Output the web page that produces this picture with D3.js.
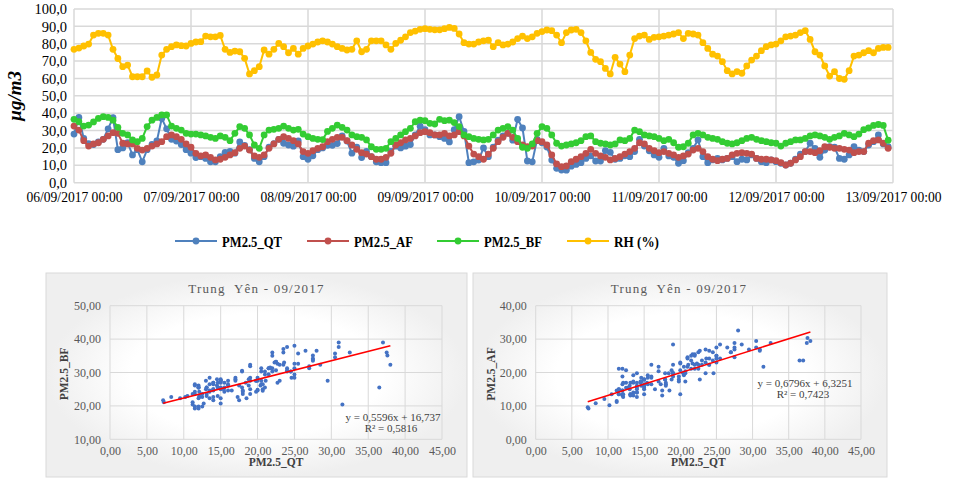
<!DOCTYPE html>
<html>
<head>
<meta charset="utf-8">
<script src="https://cdn.jsdelivr.net/npm/d3@7/dist/d3.min.js"></script>
<style>
  body { margin: 0; background: #fff; }
  svg { display: block; }
  .tick text { font-family: "Liberation Serif", "Times New Roman", serif; }
</style>
</head>
<body>
<div id="chart-area"></div>
<script>
// hourly readings, 06/09/2017 00:00 -> 12/09/2017 23:00 (one row per day)
var pmQT = [
  28, 37.6, 25.5, 22.5, 22, 23.5, 25, 31, 37.5, 19, 20, 23, 16, 19, 12, 19, 22, 24, 37, 31, 25, 24, 22, 19,
  17, 14.5, 15, 14, 12, 12, 15, 17.5, 18, 17, 23.5, 21.5, 19, 14, 12, 15, 20.5, 22.5, 25, 22.7, 21.7, 21, 24, 15,
  13.5, 15.5, 19, 20, 21.5, 21.5, 22.5, 27, 24, 17, 20.5, 14.5, 18, 15, 12, 11.5, 11.5, 18, 21, 20, 21, 22, 27.5, 32.5,
  30.5, 27.5, 27.5, 26.5, 25.5, 23.5, 30.5, 38, 29.5, 11.5, 12, 13, 20, 15, 20.5, 24.5, 27, 28.5, 24.5, 36.5, 31.5, 12.5,
  12, 25, 23, 20.5, 13, 8.3, 7.3, 7.2, 9.5, 10.5, 11.5, 14, 15.5, 12.5, 12.5, 18.5, 17.5, 13.5, 14, 15.5, 15, 17.9,
  25, 21.1, 18.4, 16, 14.6, 19.8, 15.4, 14.6, 11.2, 12.7, 17.3, 19.8, 24.6, 15, 11.5, 13.1, 14, 13.1, 14, 15, 12.1, 13.5,
  13.1, 16, 14, 12.1, 11.5, 13.1, 12.1, 11.2, 10.2, 11.2, 13.5, 16.5, 17.9, 22.7, 19.8, 14.6, 18.8, 20.7, 20.4, 14, 13.5, 16,
  20.7, 18.8, 17.9, 21.7, 23.6, 27.5, 22.3, 20.7
];
var pmAF = [
  32.6, 30.3, 24.2, 21.1, 22.3, 23, 25, 26.9, 28.8, 28.4, 22.7, 22.3, 22.3, 19.8, 18.8, 19.8, 21.1, 22.3, 23.6, 26.5, 27.5, 26.5, 25, 22.3,
  20.4, 16.9, 15.4, 16, 14.6, 13.1, 13.5, 14.6, 16, 17.3, 19.8, 21.1, 18.8, 15.4, 14.6, 16, 19.8, 22.3, 25, 26.5, 25.5, 24.2, 22.3, 17.9,
  16.9, 18.4, 19.8, 20.7, 23.6, 25, 26.1, 26.1, 24.2, 21.7, 19.2, 17.3, 16.5, 15, 13.5, 13.5, 14.6, 16.9, 21.7, 23, 24.6, 25.5, 26.9, 28.8,
  29.4, 28.8, 27.5, 27.5, 28.4, 26.9, 27.5, 29.4, 26.9, 21.1, 16.5, 15, 13.5, 16.5, 19.8, 23.6, 26.1, 28.4, 26.1, 23.6, 21.7, 20.7,
  21.1, 24.2, 23.6, 21.7, 16, 10.8, 9.2, 9.6, 12.1, 13.5, 15, 16.9, 19.2, 16.9, 15.4, 14.6, 13.1, 14, 15, 16.5, 17.9, 19.8,
  23, 22.3, 19.8, 18.4, 17.3, 17.9, 16.9, 16, 14.6, 15.4, 16.5, 18.8, 19.8, 17.9, 15, 13.5, 12.7, 13.5, 14, 16, 16.9, 17.3,
  16.9, 16.5, 14, 13.5, 13.5, 13.1, 12.7, 11.5, 10.2, 11.2, 13.1, 15, 17.9, 17.9, 17.3, 18.4, 20.7, 20.4, 19.8, 19.8, 19.2, 18.8,
  17.3, 17.9, 17.9, 22.7, 24.2, 24.6, 22.7, 19.8
];
var pmBF = [
  36.5, 35.1, 32.6, 33.2, 35, 37, 38, 37.6, 36, 31.9, 28.4, 27.5, 24.6, 23.6, 25.5, 32.3, 36, 37.6, 39, 39, 32.6, 31.3, 30.3, 28.4,
  28, 28, 27.5, 26.9, 26.1, 25.5, 26.9, 26.1, 24.2, 28.4, 32.3, 31.3, 27.5, 21.7, 19.8, 27.5, 30.3, 30.7, 31.3, 32.6, 31.3, 30.3, 30.7, 28,
  26.5, 25.5, 25, 24.8, 29.5, 31.3, 33.2, 31.9, 30.3, 27.5, 26.5, 26.1, 24.6, 20.7, 19.2, 19.2, 19.8, 23.6, 25.5, 27.5, 29.4, 31.3, 35.1, 36,
  35.7, 34.2, 33.8, 36.5, 35.7, 36, 34.6, 32.3, 27.5, 26.5, 25.5, 25, 24.6, 25, 27.5, 30.3, 31.3, 32.3, 30.3, 25.5, 20.4, 19.8,
  22.3, 28.4, 32.3, 31.3, 27.5, 22.7, 21.1, 21.7, 22.3, 23, 24.2, 26.5, 26.9, 23.6, 22.7, 22.3, 21.7, 22.3, 24.6, 24.2, 25.5, 30.3,
  29.4, 27.5, 26.9, 26.5, 25.5, 24.2, 25, 23, 20.4, 20.7, 22.7, 27.5, 28.4, 27.5, 26.1, 25.5, 25, 23.6, 22.7, 22.3, 23, 24.2,
  25.5, 26.1, 25, 24.2, 23.6, 23, 22.7, 21.1, 22.7, 23.6, 24.6, 24.6, 25.5, 26.9, 27.5, 26.9, 26.1, 25, 26.1, 26.9, 28.4, 27.5,
  26.5, 28, 30.5, 31.5, 33, 33.5, 33, 24.5
];
var rhPct = [
  76.8, 77.5, 78.7, 79.8, 85, 86, 86, 85, 76.8, 71.5, 66.8, 67.7, 61, 61, 61, 64.3, 60.7, 62, 73.5, 76.8, 78.3, 79.3, 78.9, 78.7,
  80.2, 81, 81.2, 84.4, 84, 84, 84.8, 76.8, 75, 75.8, 75.4, 71.6, 62.6, 64.5, 66.8, 76.4, 74, 76.8, 80.2, 78.3, 74.8, 77.3, 74, 77.3,
  78.7, 79.8, 81, 81.7, 81, 79.8, 78.3, 77.3, 76.4, 76.8, 81.7, 75.4, 76.8, 81.7, 81.7, 81.7, 79.3, 76.8, 80.2, 82, 84, 86.4, 87.3, 88.3,
  88.7, 88.3, 88, 88, 88.7, 89.4, 88.8, 85.6, 80.6, 79.8, 79.8, 81, 81.7, 82, 78.3, 80.6, 79.3, 79.8, 81, 83, 84.4, 83,
  84, 86, 87, 87.9, 87.5, 85, 80.6, 86.4, 87.9, 88.3, 86.4, 81.7, 75, 71, 69.7, 65.8, 62.6, 72.2, 68.3, 63.9, 73.5, 83,
  84.4, 85, 82.5, 83.7, 84, 84.4, 85, 85.6, 86.4, 83, 86, 85.6, 85, 80.6, 77.3, 74, 72.9, 69.7, 64.5, 62.6, 64, 63,
  67.2, 70.6, 72.9, 76, 78.3, 79.3, 79.8, 81.7, 84, 84.4, 85, 86.4, 87.5, 82.5, 75.4, 73.5, 67.2, 61.4, 63.9, 60, 59.5, 64.5,
  72.9, 73.5, 74.8, 76, 74.8, 77.3, 77.9, 77.9
];

var dayLabels = ["06/09/2017 00:00", "07/09/2017 00:00", "08/09/2017 00:00", "09/09/2017 00:00",
                 "10/09/2017 00:00", "11/09/2017 00:00", "12/09/2017 00:00", "13/09/2017 00:00"];
var seriesNames = ["PM2.5_QT", "PM2.5_AF", "PM2.5_BF", "RH (%)"];
var seriesColors = ["#4f81bd", "#c0504d", "#33cc33", "#ffc000"];

// regression results printed on the scatter charts
var fitBF = { slope: 0.5596, intercept: 16.737, r2: "0,5816", label: "y = 0,5596x + 16,737" };
var fitAF = { slope: 0.6796, intercept: 6.3251, r2: "0,7423", label: "y = 0,6796x + 6,3251" };

var serif = '"Liberation Serif", "Times New Roman", serif';
var locale = d3.formatLocale({ decimal: ",", thousands: ".", grouping: [3], currency: ["", ""] });
var fmt1 = locale.format(".1f");
var fmt2 = locale.format(".2f");

var svg = d3.select("#chart-area")
    .append("svg")
    .attr("width", 953)
    .attr("height", 481);

// ---------- time series ----------
var start = new Date(2017, 8, 6, 0, 0);
var hourly = pmQT.map((d, i) => d3.timeHour.offset(start, i));
var dayTicks = d3.range(8).map(i => d3.timeDay.offset(start, i));

var x = d3.scaleTime()
    .domain([start, d3.timeDay.offset(start, 7)])
    .range([74, 893]);
var y = d3.scaleLinear()
    .domain([0, 100])
    .range([182.7, 9]);

var lineChart = svg.append("g");

lineChart.append("g")
    .selectAll("line")
    .data(d3.range(0, 101, 10))
    .enter()
    .append("line")
    .attr("x1", 74).attr("x2", 893)
    .attr("y1", d => y(d)).attr("y2", d => y(d))
    .attr("stroke", "#d9d9d9").attr("stroke-width", 1.5);

lineChart.append("g")
    .selectAll("line")
    .data(dayTicks)
    .enter()
    .append("line")
    .attr("x1", d => x(d)).attr("x2", d => x(d))
    .attr("y1", y(0)).attr("y2", y(100))
    .attr("stroke", "#d9d9d9").attr("stroke-width", 1.5);

var yAxisCall = d3.axisLeft(y).tickValues(d3.range(0, 101, 10)).tickFormat(fmt1).tickSize(0).tickPadding(7);
lineChart.append("g")
    .attr("transform", "translate(74,0)")
    .call(yAxisCall)
    .call(g => g.select(".domain").remove())
    .selectAll("text")
    .attr("font-size", "14.5px")
    .attr("fill", "#000");

var xAxisCall = d3.axisBottom(x).tickValues(dayTicks).tickFormat((d, i) => dayLabels[i]).tickSize(0).tickPadding(9);
lineChart.append("g")
    .attr("transform", `translate(0, ${y(0)})`)
    .call(xAxisCall)
    .call(g => g.select(".domain").remove())
    .selectAll("text")
    .attr("font-size", "14.5px")
    .attr("textLength", 96)
    .attr("lengthAdjust", "spacingAndGlyphs")
    .attr("fill", "#000");

lineChart.append("text")
    .attr("transform", "translate(21,96) rotate(-90)")
    .attr("text-anchor", "middle")
    .attr("font-family", serif)
    .attr("font-size", "19px")
    .attr("font-weight", "bold")
    .attr("font-style", "italic")
    .text("µg/m3");

var allSeries = [pmQT, pmAF, pmBF, rhPct];
var line = d3.line()
    .x((d, i) => x(hourly[i]))
    .y(d => y(d));

allSeries.forEach((vals, k) => {
    var g = lineChart.append("g");
    g.append("path")
        .attr("d", line(vals))
        .attr("fill", "none")
        .attr("stroke", seriesColors[k])
        .attr("stroke-width", 2);
    g.selectAll("circle")
        .data(vals)
        .enter()
        .append("circle")
        .attr("cx", (d, i) => x(hourly[i]))
        .attr("cy", d => y(d))
        .attr("r", 3.4)
        .attr("fill", seriesColors[k]);
});

// legend
var legendX = [175, 307, 437, 567];
var legendTextW = [60, 59, 58, 45];
var legend = svg.append("g");
seriesNames.forEach((name, k) => {
    var lg = legend.append("g").attr("transform", `translate(${legendX[k]}, 241)`);
    lg.append("line")
        .attr("x1", 0).attr("x2", 42)
        .attr("stroke", seriesColors[k]).attr("stroke-width", 2);
    lg.append("circle")
        .attr("cx", 21).attr("r", 3.4)
        .attr("fill", seriesColors[k]);
    lg.append("text")
        .attr("x", 47).attr("y", 5.5)
        .attr("font-family", serif)
        .attr("font-size", "15.5px")
        .attr("font-weight", "bold")
        .attr("textLength", legendTextW[k])
        .attr("lengthAdjust", "spacingAndGlyphs")
        .text(name);
});

// ---------- scatter charts ----------
var defs = svg.append("defs");
var grad = defs.append("radialGradient").attr("id", "panelBg");
grad.append("stop").attr("offset", "60%").attr("stop-color", "#ffffff");
grad.append("stop").attr("offset", "100%").attr("stop-color", "#efefef");

function scatter(opts) {
    var g = svg.append("g");
    g.append("rect")
        .attr("x", opts.frame[0]).attr("y", 273)
        .attr("width", opts.frame[1] - opts.frame[0]).attr("height", 204)
        .attr("fill", "url(#panelBg)")
        .attr("stroke", "#d9d9d9");

    var sx = d3.scaleLinear().domain([0, 45]).range(opts.xr);
    var sy = d3.scaleLinear().domain(opts.yDomain).range([439.3, 305.7]);
    var xt = d3.range(0, 46, 5);
    var yt = d3.range(opts.yDomain[0], opts.yDomain[1] + 1, 10);

    g.append("g").selectAll("line").data(xt).enter().append("line")
        .attr("x1", d => sx(d)).attr("x2", d => sx(d))
        .attr("y1", sy.range()[0]).attr("y2", sy.range()[1])
        .attr("stroke", "#d9d9d9");
    g.append("g").selectAll("line").data(yt).enter().append("line")
        .attr("x1", sx(0)).attr("x2", sx(45))
        .attr("y1", d => sy(d)).attr("y2", d => sy(d))
        .attr("stroke", "#d9d9d9");

    g.append("g")
        .attr("transform", `translate(0, ${sy.range()[0]})`)
        .call(d3.axisBottom(sx).tickValues(xt).tickFormat(fmt2).tickSize(0).tickPadding(7))
        .call(a => a.select(".domain").remove())
        .selectAll("text").attr("font-size", "12px").attr("fill", "#595959");
    g.append("g")
        .attr("transform", `translate(${sx(0)}, 0)`)
        .call(d3.axisLeft(sy).tickValues(yt).tickFormat(fmt2).tickSize(0).tickPadding(9))
        .call(a => a.select(".domain").remove())
        .selectAll("text").attr("font-size", "12px").attr("fill", "#595959");

    g.append("g").selectAll("circle").data(pmQT).enter().append("circle")
        .attr("cx", d => sx(d))
        .attr("cy", (d, i) => sy(opts.yVals[i]))
        .attr("r", 2)
        .attr("fill", "#4472c4");

    var x0 = d3.min(pmQT), x1 = d3.max(pmQT);
    g.append("line")
        .attr("x1", sx(x0)).attr("y1", sy(opts.fit.slope * x0 + opts.fit.intercept))
        .attr("x2", sx(x1)).attr("y2", sy(opts.fit.slope * x1 + opts.fit.intercept))
        .attr("stroke", "#ff0000").attr("stroke-width", 1.6);

    var cx = (opts.frame[0] + opts.frame[1]) / 2 + opts.titleShift;
    g.append("text")
        .attr("x", cx).attr("y", 292.5)
        .attr("text-anchor", "middle")
        .attr("font-family", serif).attr("font-size", "13px")
        .attr("letter-spacing", "1.2px").attr("fill", "#595959")
        .style("white-space", "pre")
        .text("Trung  Yên - 09/2017");

    g.append("text")
        .attr("x", (sx(0) + sx(45)) / 2).attr("y", 466)
        .attr("text-anchor", "middle")
        .attr("font-family", serif).attr("font-size", "11.5px").attr("font-weight", "bold")
        .attr("fill", "#404040")
        .text("PM2.5_QT");
    g.append("text")
        .attr("transform", `translate(${opts.yLabelX}, 374) rotate(-90)`)
        .attr("text-anchor", "middle")
        .attr("font-family", serif).attr("font-size", "11.5px").attr("font-weight", "bold")
        .attr("fill", "#404040")
        .text(opts.yLabel);

    g.append("text")
        .attr("x", opts.eq[0]).attr("y", opts.eq[1])
        .attr("text-anchor", "middle")
        .attr("font-family", serif).attr("font-size", "11px").attr("fill", "#404040")
        .text(opts.fit.label);
    g.append("text")
        .attr("x", opts.eq[0] - 2).attr("y", opts.eq[1] + 10.5)
        .attr("text-anchor", "middle")
        .attr("font-family", serif).attr("font-size", "11px").attr("fill", "#404040")
        .text("R² = " + opts.fit.r2);
}

scatter({ frame: [46, 467], xr: [110, 442], yDomain: [10, 50], yVals: pmBF, fit: fitBF,
          yLabel: "PM2.5_BF", yLabelX: 68, eq: [393, 421], titleShift: 0 });
scatter({ frame: [473, 887], xr: [535.7, 861], yDomain: [0, 40], yVals: pmAF, fit: fitAF,
          yLabel: "PM2.5_AF", yLabelX: 495, eq: [805, 387], titleShift: -1 });
</script>
</body>
</html>
